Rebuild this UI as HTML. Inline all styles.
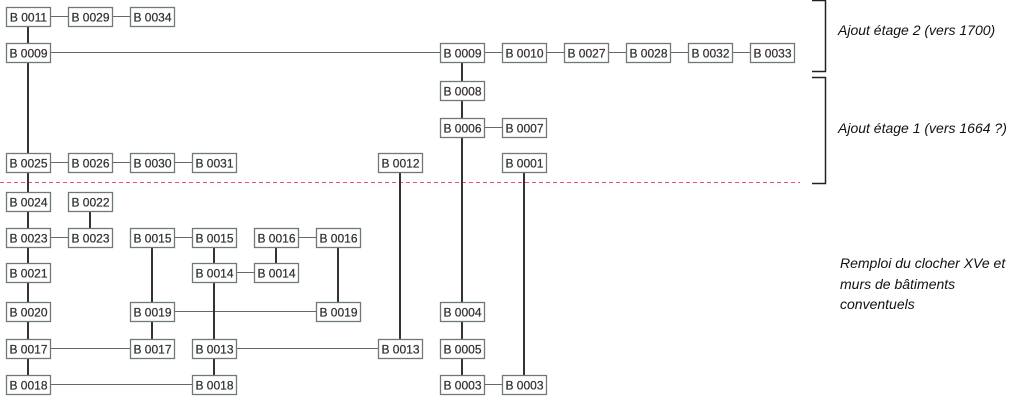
<!DOCTYPE html>
<html><head><meta charset="utf-8"><style>
body{margin:0;background:#fff}
svg{display:block}
.b rect{fill:#fff;stroke:#6e7a7a;stroke-width:1.3}
.b text{font-family:"Liberation Sans",sans-serif;font-size:12px;fill:#333;text-anchor:middle;stroke:#333;stroke-width:0.25}
.v{stroke:#333;stroke-width:2}
.h{stroke:#666;stroke-width:1}
.lab{font-family:"Liberation Sans",sans-serif;font-style:italic;font-size:14px;fill:#111}
</style></head><body>
<svg width="1024" height="406" viewBox="0 0 1024 406">
<line x1="0" y1="182.5" x2="800" y2="182.5" stroke="#e0507a" stroke-width="1" stroke-dasharray="4,3"/>
<path d="M812 0.5H825.5V71.5H812" fill="none" stroke="#222" stroke-width="1.5"/>
<path d="M812 77.5H825.5V183.5H812" fill="none" stroke="#222" stroke-width="1.5"/>
<text class="lab" x="838" y="35">Ajout étage 2 (vers 1700)</text>
<text class="lab" x="838" y="133">Ajout étage 1 (vers 1664 ?)</text>
<text class="lab" x="840" y="268">Remploi du clocher XVe et</text>
<text class="lab" x="840" y="289">murs de bâtiments</text>
<text class="lab" x="840" y="309">conventuels</text>
<g class="h">
<line x1="28" y1="16.5" x2="152" y2="16.5"/>
<line x1="28" y1="52.5" x2="772" y2="52.5"/>
<line x1="462" y1="127.5" x2="524" y2="127.5"/>
<line x1="28" y1="162.5" x2="214" y2="162.5"/>
<line x1="28" y1="237.5" x2="90" y2="237.5"/>
<line x1="152" y1="237.5" x2="214" y2="237.5"/>
<line x1="276" y1="237.5" x2="338" y2="237.5"/>
<line x1="214" y1="272.5" x2="276" y2="272.5"/>
<line x1="152" y1="311.5" x2="338" y2="311.5"/>
<line x1="28" y1="348.5" x2="152" y2="348.5"/>
<line x1="214" y1="348.5" x2="400" y2="348.5"/>
<line x1="28" y1="384.5" x2="214" y2="384.5"/>
<line x1="462" y1="384.5" x2="524" y2="384.5"/>
</g>
<g class="v">
<line x1="28" y1="16" x2="28" y2="384"/>
<line x1="462" y1="52" x2="462" y2="384"/>
<line x1="400" y1="162" x2="400" y2="348"/>
<line x1="524" y1="162" x2="524" y2="384"/>
<line x1="90" y1="201" x2="90" y2="237"/>
<line x1="152" y1="237" x2="152" y2="348"/>
<line x1="214" y1="237" x2="214" y2="384"/>
<line x1="276" y1="237" x2="276" y2="272"/>
<line x1="338" y1="237" x2="338" y2="311"/>
</g>
<g class="b">
<g transform="translate(6,7)"><rect x="0.5" y="0.5" width="44" height="19"/><text x="22.5" y="14.5">B 0011</text></g>
<g transform="translate(68,7)"><rect x="0.5" y="0.5" width="44" height="19"/><text x="22.5" y="14.5">B 0029</text></g>
<g transform="translate(130,7)"><rect x="0.5" y="0.5" width="44" height="19"/><text x="22.5" y="14.5">B 0034</text></g>

<g transform="translate(6,43)"><rect x="0.5" y="0.5" width="44" height="19"/><text x="22.5" y="14.5">B 0009</text></g>
<g transform="translate(440,43)"><rect x="0.5" y="0.5" width="44" height="19"/><text x="22.5" y="14.5">B 0009</text></g>
<g transform="translate(502,43)"><rect x="0.5" y="0.5" width="44" height="19"/><text x="22.5" y="14.5">B 0010</text></g>
<g transform="translate(564,43)"><rect x="0.5" y="0.5" width="44" height="19"/><text x="22.5" y="14.5">B 0027</text></g>
<g transform="translate(626,43)"><rect x="0.5" y="0.5" width="44" height="19"/><text x="22.5" y="14.5">B 0028</text></g>
<g transform="translate(688,43)"><rect x="0.5" y="0.5" width="44" height="19"/><text x="22.5" y="14.5">B 0032</text></g>
<g transform="translate(750,43)"><rect x="0.5" y="0.5" width="44" height="19"/><text x="22.5" y="14.5">B 0033</text></g>

<g transform="translate(440,81)"><rect x="0.5" y="0.5" width="44" height="19"/><text x="22.5" y="14.5">B 0008</text></g>
<g transform="translate(440,118)"><rect x="0.5" y="0.5" width="44" height="19"/><text x="22.5" y="14.5">B 0006</text></g>
<g transform="translate(502,118)"><rect x="0.5" y="0.5" width="44" height="19"/><text x="22.5" y="14.5">B 0007</text></g>

<g transform="translate(6,153)"><rect x="0.5" y="0.5" width="44" height="19"/><text x="22.5" y="14.5">B 0025</text></g>
<g transform="translate(68,153)"><rect x="0.5" y="0.5" width="44" height="19"/><text x="22.5" y="14.5">B 0026</text></g>
<g transform="translate(130,153)"><rect x="0.5" y="0.5" width="44" height="19"/><text x="22.5" y="14.5">B 0030</text></g>
<g transform="translate(192,153)"><rect x="0.5" y="0.5" width="44" height="19"/><text x="22.5" y="14.5">B 0031</text></g>
<g transform="translate(378,153)"><rect x="0.5" y="0.5" width="44" height="19"/><text x="22.5" y="14.5">B 0012</text></g>
<g transform="translate(502,153)"><rect x="0.5" y="0.5" width="44" height="19"/><text x="22.5" y="14.5">B 0001</text></g>

<g transform="translate(6,192)"><rect x="0.5" y="0.5" width="44" height="19"/><text x="22.5" y="14.5">B 0024</text></g>
<g transform="translate(68,192)"><rect x="0.5" y="0.5" width="44" height="19"/><text x="22.5" y="14.5">B 0022</text></g>

<g transform="translate(6,228)"><rect x="0.5" y="0.5" width="44" height="19"/><text x="22.5" y="14.5">B 0023</text></g>
<g transform="translate(68,228)"><rect x="0.5" y="0.5" width="44" height="19"/><text x="22.5" y="14.5">B 0023</text></g>
<g transform="translate(130,228)"><rect x="0.5" y="0.5" width="44" height="19"/><text x="22.5" y="14.5">B 0015</text></g>
<g transform="translate(192,228)"><rect x="0.5" y="0.5" width="44" height="19"/><text x="22.5" y="14.5">B 0015</text></g>
<g transform="translate(254,228)"><rect x="0.5" y="0.5" width="44" height="19"/><text x="22.5" y="14.5">B 0016</text></g>
<g transform="translate(316,228)"><rect x="0.5" y="0.5" width="44" height="19"/><text x="22.5" y="14.5">B 0016</text></g>

<g transform="translate(6,263)"><rect x="0.5" y="0.5" width="44" height="19"/><text x="22.5" y="14.5">B 0021</text></g>
<g transform="translate(192,263)"><rect x="0.5" y="0.5" width="44" height="19"/><text x="22.5" y="14.5">B 0014</text></g>
<g transform="translate(254,263)"><rect x="0.5" y="0.5" width="44" height="19"/><text x="22.5" y="14.5">B 0014</text></g>

<g transform="translate(6,302)"><rect x="0.5" y="0.5" width="44" height="19"/><text x="22.5" y="14.5">B 0020</text></g>
<g transform="translate(130,302)"><rect x="0.5" y="0.5" width="44" height="19"/><text x="22.5" y="14.5">B 0019</text></g>
<g transform="translate(316,302)"><rect x="0.5" y="0.5" width="44" height="19"/><text x="22.5" y="14.5">B 0019</text></g>
<g transform="translate(440,302)"><rect x="0.5" y="0.5" width="44" height="19"/><text x="22.5" y="14.5">B 0004</text></g>

<g transform="translate(6,339)"><rect x="0.5" y="0.5" width="44" height="19"/><text x="22.5" y="14.5">B 0017</text></g>
<g transform="translate(130,339)"><rect x="0.5" y="0.5" width="44" height="19"/><text x="22.5" y="14.5">B 0017</text></g>
<g transform="translate(192,339)"><rect x="0.5" y="0.5" width="44" height="19"/><text x="22.5" y="14.5">B 0013</text></g>
<g transform="translate(378,339)"><rect x="0.5" y="0.5" width="44" height="19"/><text x="22.5" y="14.5">B 0013</text></g>
<g transform="translate(440,339)"><rect x="0.5" y="0.5" width="44" height="19"/><text x="22.5" y="14.5">B 0005</text></g>

<g transform="translate(6,375)"><rect x="0.5" y="0.5" width="44" height="19"/><text x="22.5" y="14.5">B 0018</text></g>
<g transform="translate(192,375)"><rect x="0.5" y="0.5" width="44" height="19"/><text x="22.5" y="14.5">B 0018</text></g>
<g transform="translate(440,375)"><rect x="0.5" y="0.5" width="44" height="19"/><text x="22.5" y="14.5">B 0003</text></g>
<g transform="translate(502,375)"><rect x="0.5" y="0.5" width="44" height="19"/><text x="22.5" y="14.5">B 0003</text></g>
</g>
</svg>
</body></html>
